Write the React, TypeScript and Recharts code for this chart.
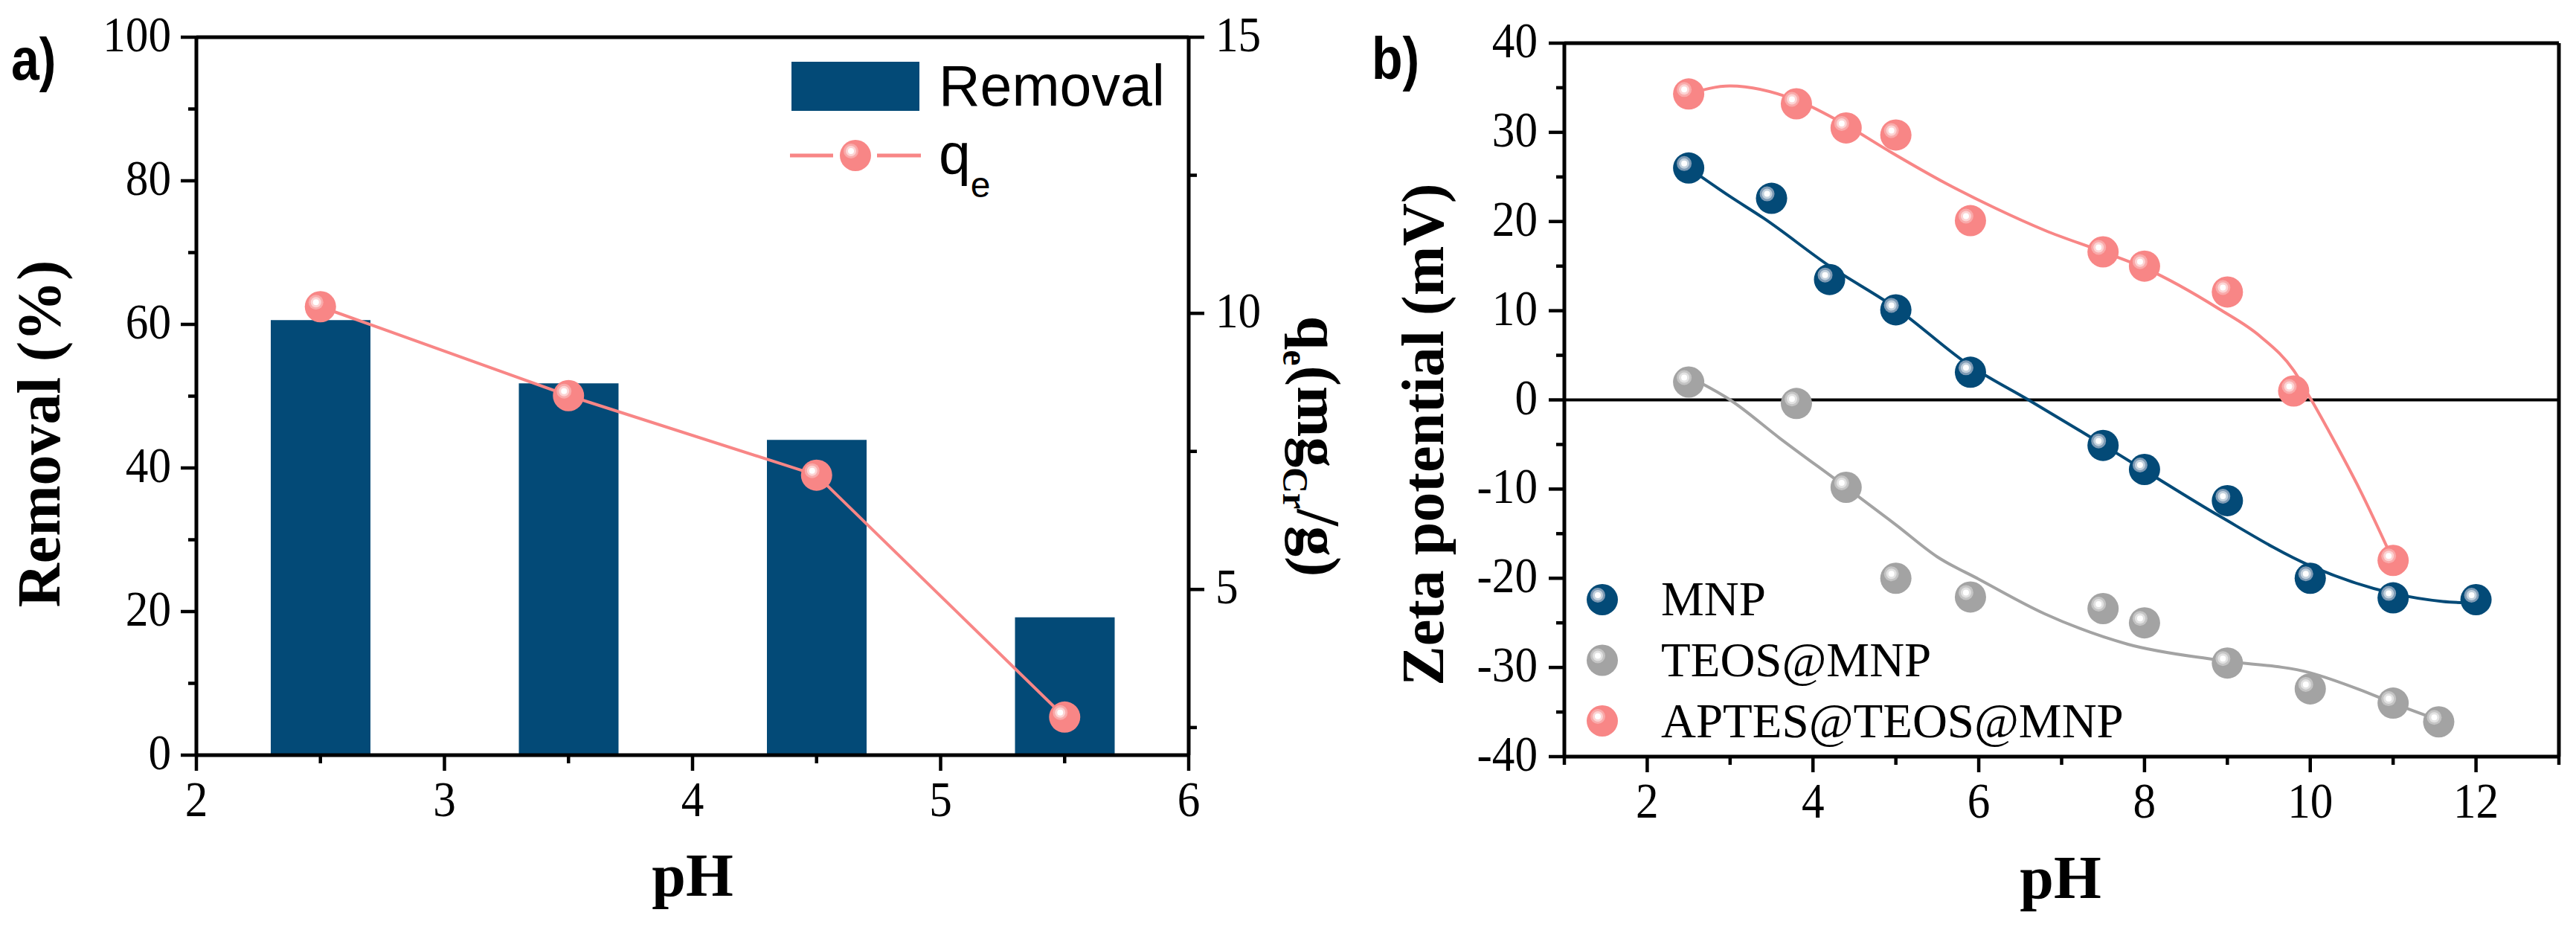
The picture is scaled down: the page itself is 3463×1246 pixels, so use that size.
import React from "react";
import {
  ComposedChart,
  Bar,
  Line,
  Scatter,
  XAxis,
  YAxis,
  ReferenceLine,
  Legend,
} from "recharts";

// a) removal (%) and q_e against pH
const phA = [2.5, 3.5, 4.5, 5.5];
const removalPct = [60.6, 51.8, 43.9, 19.2];
const qeValues = [10.12, 8.51, 7.07, 2.69];

const aXTicks = [2, 2.5, 3, 3.5, 4, 4.5, 5, 5.5, 6];
const aXMajor = [2, 3, 4, 5, 6];
const aLeftTicks = [0, 10, 20, 30, 40, 50, 60, 70, 80, 90, 100];
const aLeftMajor = [0, 20, 40, 60, 80, 100];
const aRightTicks = [2.5, 5, 7.5, 10, 12.5, 15];
const aRightMajor = [5, 10, 15];

// b) zeta potential against pH
const mnpPh = [2.5, 3.5, 4.2, 5.0, 5.9, 7.5, 8.0, 9.0, 10.0, 11.0, 12.0];
const mnpZeta = [26.0, 22.6, 13.5, 10.1, 3.1, -5.1, -7.8, -11.3, -20.0, -22.2, -22.4];
const teosPh = [2.5, 3.8, 4.4, 5.0, 5.9, 7.5, 8.0, 9.0, 10.0, 11.0, 11.55];
const teosZeta = [2.0, -0.4, -9.8, -20.0, -22.1, -23.4, -25.0, -29.5, -32.4, -34.0, -36.1];
const aptesPh = [2.5, 3.8, 4.4, 5.0, 5.9, 7.5, 8.0, 9.0, 9.8, 11.0];
const aptesZeta = [34.3, 33.2, 30.5, 29.7, 20.1, 16.6, 15.0, 12.1, 1.0, -18.0];

// fitted curves
const mnpFitPh = [2.5, 3.0, 3.4, 4.2, 5.0, 5.9, 6.6, 7.3, 8.0, 8.9, 10.0, 11.0, 11.6, 12.0];
const mnpFitZeta = [26.0, 22.8, 20.4, 15.0, 10.3, 3.8, 0.0, -3.9, -7.9, -13.0, -18.6, -21.7, -22.6, -22.8];
const teosFitPh = [2.5, 3.0, 3.6, 4.4, 5.0, 5.5, 6.0, 6.8, 7.8, 8.9, 10.0, 10.6, 11.0, 11.55];
const teosFitZeta = [2.6, 0.0, -4.3, -9.8, -14.0, -17.6, -20.1, -24.0, -27.4, -29.2, -30.6, -32.5, -34.0, -35.9];
const aptesFitPh = [2.5, 3.0, 3.8, 4.4, 4.9, 5.6, 6.2, 6.8, 7.5, 8.0, 8.9, 9.4, 9.8, 10.0, 10.3, 10.6, 11.0];
const aptesFitZeta = [34.3, 35.2, 33.6, 30.8, 28.0, 24.3, 21.5, 19.0, 16.6, 14.8, 10.2, 7.1, 3.3, 0.2, -4.8, -10.1, -18.0];

const bXTicks = [1, 2, 3, 4, 5, 6, 7, 8, 9, 10, 11, 12, 13];
const bXMajor = [2, 4, 6, 8, 10, 12];
const bYTicks = [-40, -35, -30, -25, -20, -15, -10, -5, 0, 5, 10, 15, 20, 25, 30, 35, 40];
const bYMajor = [-40, -30, -20, -10, 0, 10, 20, 30, 40];

const BLUE = "#034a77";
const PINK = "#f88686";
const GREY = "#a3a3a3";
const BLUE_BALL = [BLUE, "#7f9bb5", "#c2d0dc"];
const PINK_BALL = [PINK, "#f9aaaa", "#fcd4d4"];
const GREY_BALL = [GREY, "#c4c4c4", "#e2e2e2"];

const SERIF = "Liberation Serif";
const SANS = "Liberation Sans";
const AXIS = { stroke: "#000", strokeWidth: 5 };

const panelA = phA.map((ph, i) => ({ ph, removal: removalPct[i], qe: qeValues[i] }));
const zip = (xs: number[], ys: number[]) => xs.map((ph, i) => ({ ph, zeta: ys[i] }));

const Ball = ({ cx, cy, pal }: any) => {
  if (cx == null || cy == null) return null;
  return (
    <g>
      <circle cx={cx} cy={cy} r={21} fill={pal[0]} />
      <circle cx={cx - 6} cy={cy - 6} r={10} fill={pal[1]} />
      <circle cx={cx - 6} cy={cy - 6} r={7} fill={pal[2]} />
      <circle cx={cx - 6} cy={cy - 6} r={4} fill="#fff" />
    </g>
  );
};

// tick numbers in the figure are a slightly condensed Times
const TickText = ({ x, y, anchor, children }: any) => (
  <text
    transform={`translate(${x},${y}) scale(0.9,1)`}
    textAnchor={anchor}
    fontSize={68}
    fontFamily={SERIF}
    style={{ fontFamily: SERIF, fontSize: 68, fontWeight: 400 }}
    fill="#000"
  >
    {String(children)}
  </text>
);

const bottomTick = (majors: number[]) => (p: any) => {
  const v = p.payload.value;
  const major = majors.includes(v);
  return (
    <g>
      <line x1={p.x} x2={p.x} y1={p.y} y2={p.y + (major ? 21 : 11)} stroke="#000" strokeWidth={4.5} />
      {major && <TickText x={p.x} y={p.y + 82} anchor="middle">{v}</TickText>}
    </g>
  );
};

const leftTick = (majors: number[], gap: number) => (p: any) => {
  const v = p.payload.value;
  const major = majors.includes(v);
  return (
    <g>
      <line x1={p.x - (major ? 21 : 11)} x2={p.x} y1={p.y} y2={p.y} stroke="#000" strokeWidth={4.5} />
      {major && <TickText x={p.x - gap} y={p.y + 19} anchor="end">{v}</TickText>}
    </g>
  );
};

const rightTick = (majors: number[]) => (p: any) => {
  const v = p.payload.value;
  const major = majors.includes(v);
  return (
    <g>
      <line x1={p.x} x2={p.x + (major ? 21 : 11)} y1={p.y} y2={p.y} stroke="#000" strokeWidth={4.5} />
      {major && <TickText x={p.x + 36} y={p.y + 19} anchor="start">{v}</TickText>}
    </g>
  );
};

const titleProps = { fontSize: 82, fontWeight: 700, fontFamily: SERIF, fill: "#000" };

const LegendA = () => (
  <svg width={560} height={220}>
    <rect x={24} y={13} width={172} height={66} fill={BLUE} />
    <text x={222} y={72} fontSize={77} fontFamily={SANS} fill="#000">Removal</text>
    <line x1={22} x2={80} y1={139} y2={139} stroke={PINK} strokeWidth={5} />
    <line x1={139} x2={198} y1={139} y2={139} stroke={PINK} strokeWidth={5} />
    <Ball cx={110} cy={139} pal={PINK_BALL} />
    <text x={222} y={164} fontSize={77} fontFamily={SANS} fill="#000">
      q<tspan fontSize={48} dy={31}>e</tspan>
    </text>
  </svg>
);

const legendB = [
  { name: "MNP", pal: BLUE_BALL },
  { name: "TEOS@MNP", pal: GREY_BALL },
  { name: "APTES@TEOS@MNP", pal: PINK_BALL },
];

const LegendB = () => (
  <svg width={760} height={260}>
    {legendB.map((item, i) => (
      <g key={item.name}>
        <Ball cx={34} cy={46 + i * 81.5} pal={item.pal} />
        <text x={113} y={67 + i * 82} fontSize={65} fontFamily={SERIF} fill="#000">
          {item.name}
        </text>
      </g>
    ))}
  </svg>
);

export default function App() {
  return (
    <div style={{ position: "absolute", left: 0, top: 0, width: 3463, height: 1246, background: "#fff" }}>
      <div style={{ position: "absolute", left: 0, top: 0 }}>
        <ComposedChart width={1830} height={1246} data={panelA} margin={{ top: 50, right: 100, bottom: 0, left: 0 }}>
          <XAxis
            type="number"
            dataKey="ph"
            domain={[2, 6]}
            ticks={aXTicks}
            interval={0}
            height={231}
            tickSize={0}
            tickMargin={0}
            tickLine={false}
            axisLine={AXIS}
            tick={bottomTick(aXMajor)}
            label={() => (
              <text x={931} y={1204} textAnchor="middle" {...titleProps}>pH</text>
            )}
          />
          <YAxis
            yAxisId="left"
            type="number"
            domain={[0, 100]}
            ticks={aLeftTicks}
            interval={0}
            width={264}
            tickSize={0}
            tickMargin={0}
            tickLine={false}
            axisLine={AXIS}
            tick={leftTick(aLeftMajor, 34)}
            label={() => (
              <text x={80} y={583} transform="rotate(-90, 80, 583)" textAnchor="middle" {...titleProps}>
                Removal (%)
              </text>
            )}
          />
          <YAxis
            yAxisId="right"
            orientation="right"
            type="number"
            domain={[2, 15]}
            ticks={aRightTicks}
            interval={0}
            width={132}
            tickSize={0}
            tickMargin={0}
            tickLine={false}
            axisLine={AXIS}
            tick={rightTick(aRightMajor)}
            label={() => (
              <text x={1745} y={600} transform="rotate(90, 1745, 600)" textAnchor="middle" {...titleProps}>
                q<tspan fontSize={48} dy={20}>e</tspan>
                <tspan dy={-20}>(mg</tspan>
                <tspan fontSize={48} dy={20}>Cr</tspan>
                <tspan dy={-20}>/g)</tspan>
              </text>
            )}
          />
          <ReferenceLine yAxisId="left" y={100} stroke="#000" strokeWidth={5} />
          <Bar yAxisId="left" dataKey="removal" fill={BLUE} barSize={134} isAnimationActive={false} />
          <Line
            yAxisId="right"
            dataKey="qe"
            type="linear"
            stroke={PINK}
            strokeWidth={4}
            dot={(p: any) => <Ball key={`qe-${p.index}`} cx={p.cx} cy={p.cy} pal={PINK_BALL} />}
            activeDot={false}
            isAnimationActive={false}
          />
          <Legend
            layout="vertical"
            align="center"
            verticalAlign="middle"
            wrapperStyle={{ left: 1040, top: 70, width: 560, height: 220 }}
            content={() => <LegendA />}
          />
        </ComposedChart>
      </div>

      <div style={{ position: "absolute", left: 1730, top: 0 }}>
        <ComposedChart width={1733} height={1246} margin={{ top: 58, right: 23, bottom: 0, left: 0 }}>
          <XAxis
            type="number"
            dataKey="ph"
            domain={[1, 13]}
            ticks={bXTicks}
            interval={0}
            height={229}
            tickSize={0}
            tickMargin={0}
            tickLine={false}
            axisLine={AXIS}
            tick={bottomTick(bXMajor)}
            label={() => (
              <text x={1040} y={1207} textAnchor="middle" {...titleProps}>pH</text>
            )}
          />
          <YAxis
            type="number"
            dataKey="zeta"
            domain={[-40, 40]}
            ticks={bYTicks}
            interval={0}
            width={373}
            tickSize={0}
            tickMargin={0}
            tickLine={false}
            axisLine={AXIS}
            tick={leftTick(bYMajor, 36)}
            label={() => (
              <text x={210} y={584} transform="rotate(-90, 210, 584)" textAnchor="middle" {...titleProps} fontSize={80}>
                Zeta potential (mV)
              </text>
            )}
          />
          <ReferenceLine y={40} stroke="#000" strokeWidth={5} />
          <ReferenceLine x={13} stroke="#000" strokeWidth={5} />
          <ReferenceLine y={0} stroke="#000" strokeWidth={4} />
          <Scatter
            name="MNP"
            data={zip(mnpPh, mnpZeta)}
            shape={(p: any) => <Ball cx={p.cx} cy={p.cy} pal={BLUE_BALL} />}
            isAnimationActive={false}
          />
          <Scatter
            name="TEOS@MNP"
            data={zip(teosPh, teosZeta)}
            shape={(p: any) => <Ball cx={p.cx} cy={p.cy} pal={GREY_BALL} />}
            isAnimationActive={false}
          />
          <Scatter
            name="APTES@TEOS@MNP"
            data={zip(aptesPh, aptesZeta)}
            shape={(p: any) => <Ball cx={p.cx} cy={p.cy} pal={PINK_BALL} />}
            isAnimationActive={false}
          />
          <Line data={zip(mnpFitPh, mnpFitZeta)} dataKey="zeta" type="monotone" stroke={BLUE} strokeWidth={4} dot={false} activeDot={false} isAnimationActive={false} />
          <Line data={zip(teosFitPh, teosFitZeta)} dataKey="zeta" type="monotone" stroke={GREY} strokeWidth={4} dot={false} activeDot={false} isAnimationActive={false} />
          <Line data={zip(aptesFitPh, aptesFitZeta)} dataKey="zeta" type="monotone" stroke={PINK} strokeWidth={4} dot={false} activeDot={false} isAnimationActive={false} />
          <Legend
            layout="vertical"
            align="center"
            verticalAlign="middle"
            wrapperStyle={{ left: 390, top: 760, width: 760, height: 260 }}
            content={() => <LegendB />}
          />
        </ComposedChart>
      </div>

      <svg style={{ position: "absolute", left: 0, top: 0 }} width={3463} height={130}>
        <text transform="translate(15,107) scale(0.85,1)" fontSize={80} fontWeight={700} fontFamily={SANS} fill="#000">a)</text>
        <text transform="translate(1844,106) scale(0.85,1)" fontSize={80} fontWeight={700} fontFamily={SANS} fill="#000">b)</text>
      </svg>
    </div>
  );
}
